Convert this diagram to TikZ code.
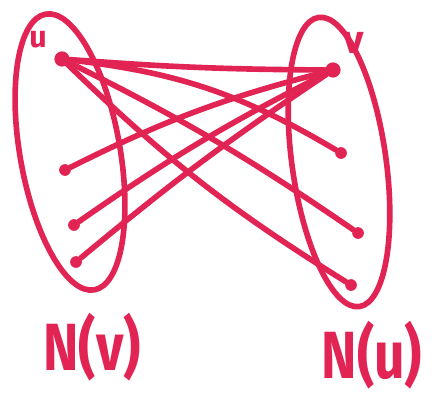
\documentclass[tikz,border=0pt]{standalone}
\usepackage{fontspec}
\setsansfont{Fira Sans}
\usetikzlibrary{positioning}
\definecolor{marker}{RGB}{226,36,84}
\tikzset{
  stroke/.style   = {draw=marker, line width=4.8pt, line cap=round, line join=round},
  dot/.style      = {circle, fill=marker, inner sep=0pt, minimum size=10pt},
  bigdot/.style   = {circle, fill=marker, inner sep=0pt, minimum size=13pt},
  tag/.style      = {text=marker, inner sep=0pt, font=\sffamily\bfseries\fontsize{26}{26}\selectfont},
  setname/.style  = {text=marker, inner sep=0pt, xscale=0.8, transform shape,
                     font=\sffamily\bfseries\fontsize{57}{57}\selectfont},
}

\begin{document}
\begin{tikzpicture}[x=0.03cm, y=-0.03cm]
  \useasboundingbox (0,0) rectangle (432,396);

  % ---- the two neighbourhoods --------------------------------------------
  \draw[stroke, rotate around={10:(70,152)}] (70,152) ellipse (50 and 140);
  \draw[stroke, rotate around={8:(339,162)}] (339,162) ellipse (47 and 146);

  % ---- vertices ----------------------------------------------------------
  \node[bigdot] (u) at (62,59) {};
  \node[bigdot] (v) at (333,70) {};
  \node[tag] (ulab) at (38,40) {u};
  \node[tag, font=\sffamily\bfseries\fontsize{34}{34}\selectfont] (vlab) at (354,43) {v};

  \node[dot] (l1) at (65,170) {};
  \node[dot] (l2) at (74,225) {};
  \node[dot] (l3) at (76,262) {};

  \node[dot] (r1) at (341,153) {};
  \node[dot] (r2) at (358,233) {};
  \node[dot] (r3) at (351,285) {};

  % ---- edges -------------------------------------------------------------
  \draw[stroke] (u) to[bend right=2] (v);
  \draw[stroke] (u) to[bend left=12] (r1);
  \draw[stroke] (u) to[bend left=4] (r2);
  \draw[stroke] (u) to[bend right=6] (r3);
  \draw[stroke] (v) to[bend right=6] (l1);
  \draw[stroke] (v) to[bend right=4] (l2);
  \draw[stroke] (v) to[bend right=3] (l3);

  % ---- labels ------------------------------------------------------------
  \node[setname] (Nv) at (92,347) {N(v)};
  \node[setname] (Nu) at (372,355) {N(u)};
\end{tikzpicture}
\end{document}
